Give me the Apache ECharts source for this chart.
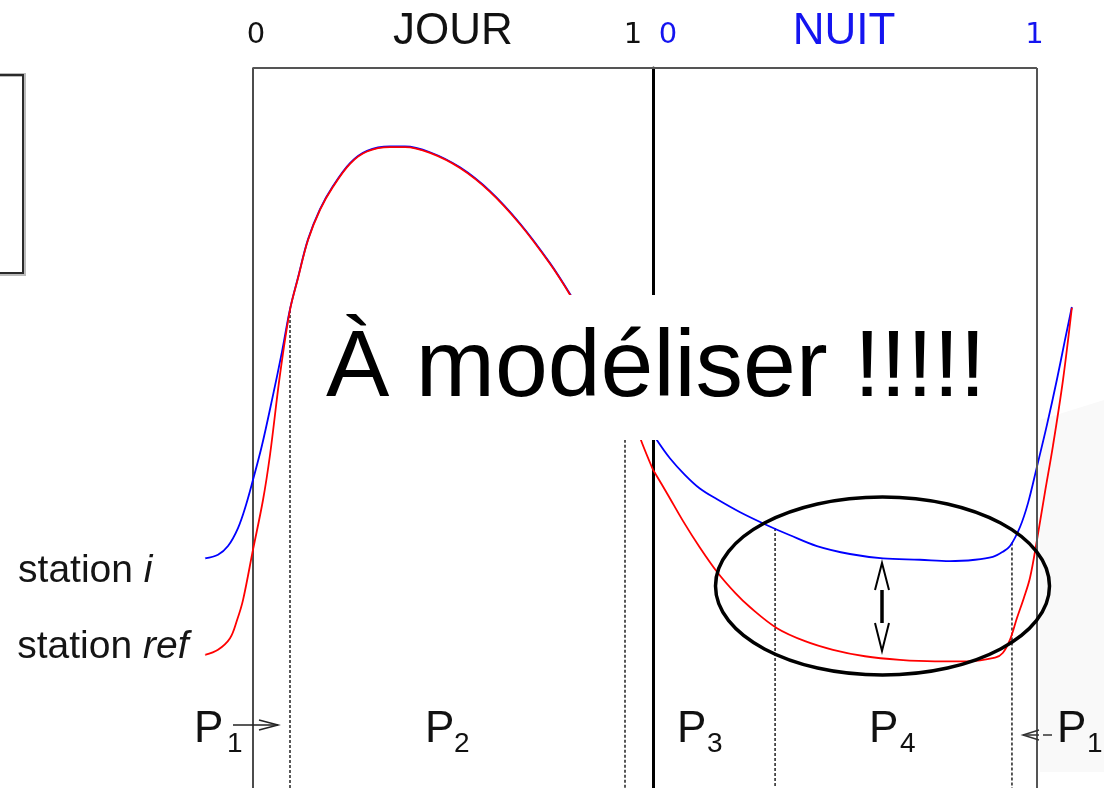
<!DOCTYPE html>
<html><head><meta charset="utf-8">
<script src="https://cdn.jsdelivr.net/npm/echarts@6/dist/echarts.min.js"></script>
<style>html,body{margin:0;padding:0;background:#fff;}#c{width:1104px;height:788px;}</style>
</head><body><div id="c"></div>
<script>
// ---- data (x in fraction of period, y in arbitrary units 0..100) ----
const panelNames = ['JOUR', 'NUIT'];
const tickValues = [0, 1];
const tickLabels = ['0', '1'];
const blueDayU = [-0.12,-0.0875,-0.0625,-0.0375,-0.0175,0,0.0225,0.0475,0.0725,0.0925,0.1125,0.1375,0.1675,0.2,0.2425,0.285,0.3425,0.38,0.4425,0.5175,0.5925,0.6675,0.7425,0.7925,0.8675,0.93,1.0];
const blueDayV = [31.9,32.4,33.6,36.1,39.3,42.8,47.6,53.9,60.6,66.5,70.9,76.2,80.4,83.6,86.8,88.5,89.1,89.1,88.3,86.2,82.9,78.4,72.9,68.6,61.6,56.0,49.3];
const redDayU = [-0.12,-0.0875,-0.0575,-0.04,-0.025,0,0.025,0.0425,0.0675,0.0925,0.1125,0.1375,0.1675,0.2,0.2425,0.285,0.3425,0.38,0.4425,0.5175,0.5925,0.6675,0.7425,0.7925,0.8675,0.93,0.97,1.0];
const redDayV = [18.5,19.2,20.8,23.3,26.1,33.1,40.0,46.25,57.4,66.4,70.8,76.1,80.3,83.5,86.7,88.4,89.0,89.0,88.2,86.1,82.8,78.3,72.8,68.5,61.3,54.6,48.3,44.2];
const blueNightU = [0,0.0104,0.044,0.083,0.122,0.167,0.227,0.297,0.357,0.427,0.513,0.599,0.695,0.773,0.839,0.885,0.911,0.930,0.956,0.977,1.0,1.026,1.052,1.073,1.091];
const blueNightV = [49.3,48.3,45.8,43.5,41.6,40.1,38.3,36.5,35.1,33.6,32.5,31.9,31.7,31.5,31.7,32.1,32.8,33.6,36.25,39.6,44.6,50.4,56.7,62.2,66.8];
const redNightU = [0,0.039,0.078,0.122,0.167,0.214,0.253,0.323,0.396,0.469,0.552,0.643,0.734,0.818,0.891,0.911,0.930,0.948,0.966,0.982,1.0,1.021,1.042,1.068,1.091];
const redNightV = [44.2,40.7,37.1,33.4,30.0,27.1,25.1,22.2,20.4,19.2,18.3,17.8,17.6,17.6,18.1,18.75,20.6,23.6,26.4,29.2,34.4,41.1,47.6,56.7,66.7];
const dayBoundU = [0.0925, 0.93];
const dayBoundTop = [66.4, 56.0];
const nightBoundU = [0.318, 0.935];
const nightBoundTop = [36.1, 34.1];
const seriesNames = ['station i', 'station ref'];
const periodLabels = [['P','1'],['P','2'],['P','3'],['P','4'],['P','1']];

const zip = (u, v) => u.map((x, i) => [x, v[i]]);
const BLUE = '#0000ff', RED = '#ff0000', NBLUE = '#1414f0';
const SANS = 'Liberation Sans';

const curve = (name, data, color, xi, yi, z) => ({
  type: 'line', name: name, xAxisIndex: xi, yAxisIndex: yi, data: data,
  smooth: 0.35, showSymbol: false, symbol: 'none', clip: false, z: z,
  lineStyle: { color: color, width: 1.8 }, itemStyle: { color: color }, animation: false
});
const boundary = (u, top, xi, yi) => ({
  type: 'line', xAxisIndex: xi, yAxisIndex: yi, data: [[u, top], [u, 0]],
  showSymbol: false, symbol: 'none', clip: false, z: 1,
  lineStyle: { color: '#222', width: 1.5, type: [3, 2] }, animation: false
});
const richS = {
  a: { fontFamily: SANS, fontSize: 39, color: '#151515', opacity: 1 },
  b: { fontFamily: SANS, fontSize: 39, fontStyle: 'italic', color: '#151515', opacity: 1 }
};
const startLabel = (pt, fmt, offset, dist) => ({
  type: 'scatter', xAxisIndex: 0, yAxisIndex: 0, data: [pt], symbolSize: 1, z: 5,
  itemStyle: { color: '#ffffff', opacity: 1 }, silent: true, animation: false,
  label: { show: true, position: 'left', distance: dist, offset: offset, formatter: fmt, rich: richS,
    color: '#151515', opacity: 1, textBorderWidth: 0 }
});

const series = [
  curve(seriesNames[0], zip(blueDayU, blueDayV), BLUE, 0, 0, 3),
  curve(seriesNames[1], zip(redDayU, redDayV), RED, 0, 0, 4),
  curve(seriesNames[0], zip(blueNightU, blueNightV), BLUE, 1, 1, 3),
  curve(seriesNames[1], zip(redNightU, redNightV), RED, 1, 1, 4),
  startLabel([blueDayU[0], blueDayV[0]], '{a|station }{b|i}', [0, 13], 52),
  startLabel([redDayU[0], redDayV[0]], '{a|station }{b|ref}', [0, -8], 16),
  { type: 'line', xAxisIndex: 0, yAxisIndex: 0, data: [], z: 6, animation: false,
    markLine: { silent: true, symbol: 'none', animation: false, label: { show: false },
      data: [[{ coord: [0, 100] }, { coord: [1, 100] }]],
      lineStyle: { color: '#555', width: 2, type: 'solid' } } },
  { type: 'line', xAxisIndex: 1, yAxisIndex: 1, data: [], z: 6, animation: false,
    markLine: { silent: true, symbol: 'none', animation: false, label: { show: false },
      data: [[{ coord: [0, 100] }, { coord: [1, 100] }], [{ coord: [1, 100] }, { coord: [1, 0] }]],
      lineStyle: { color: '#555', width: 2, type: 'solid' } } }
];
dayBoundU.forEach((u, i) => series.push(boundary(u, dayBoundTop[i], 0, 0)));
nightBoundU.forEach((u, i) => series.push(boundary(u, nightBoundTop[i], 1, 1)));

const dig = { fontFamily: 'DejaVu Sans', fontSize: 29 };
const xAx = (gi, min, max, name, color, namePad, rich) => ({
  type: 'value', gridIndex: gi, position: 'top', min: min, max: max,
  name: name, nameLocation: 'middle', nameGap: 14, nameMoveOverlap: false,
  nameTextStyle: { fontFamily: SANS, fontSize: 44, color: color, padding: namePad },
  axisLine: { show: false }, axisTick: { show: false }, splitLine: { show: false },
  axisLabel: { show: true, margin: 18, customValues: tickValues, color: color,
    formatter: v => (v === 0 ? '{a|' + tickLabels[0] + '}' : '{b|' + tickLabels[1] + '}'), rich: rich }
});
const yAx = (gi, color, width) => ({
  type: 'value', gridIndex: gi, position: 'left', min: 0, max: 100,
  axisLine: { show: true, onZero: true, lineStyle: { color: color, width: width } },
  axisTick: { show: false }, axisLabel: { show: false }, splitLine: { show: false }
});

const option = {
  animation: false,
  backgroundColor: '#fff',
  grid: [
    { left: 205, top: 68, width: 448, height: 720, containLabel: false, outerBoundsMode: 'none' },
    { left: 653, top: 68, width: 420, height: 720, containLabel: false, outerBoundsMode: 'none' }
  ],
  xAxis: [
    xAx(0, -0.12, 1, panelNames[0], '#111', [0, 0, 0, 48],
      { a: Object.assign({ color: '#111', padding: [0, 0, 0, 6] }, dig), b: Object.assign({ color: '#111', padding: [0, 40, 0, 0] }, dig) }),
    xAx(1, 0, 1.094, panelNames[1], NBLUE, [0, 38, 0, 0],
      { a: Object.assign({ color: NBLUE, padding: [0, 0, 0, 30] }, dig), b: Object.assign({ color: NBLUE, padding: [0, 5, 0, 0] }, dig) })
  ],
  yAxis: [
    yAx(0, '#111', 1.5),
    yAx(1, '#000', 3)
  ],
  series: series,
  graphic: []
};

// annotations
const G = option.graphic;
G.push({ type: 'polygon', z: -10, shape: { points: [[1040, 420], [1104, 400], [1104, 772], [1040, 772]] }, style: { fill: '#f9f9f9' } });
G.push({ type: 'rect', z: 50, shape: { x: -6, y: 75, width: 30, height: 199 }, style: { fill: 'none', stroke: '#bbb', lineWidth: 4 } });
G.push({ type: 'rect', z: 51, shape: { x: -6, y: 75, width: 29, height: 198 }, style: { fill: 'none', stroke: '#2a2a2a', lineWidth: 2 } });
G.push({ type: 'rect', z: 100, shape: { x: 300, y: 295, width: 720, height: 145 }, style: { fill: '#fff' } });
G.push({ type: 'text', z: 101, x: 326, y: 370, style: { text: 'À modéliser !!!!!', fontFamily: SANS, fontSize: 95, fill: '#000', verticalAlign: 'middle', align: 'left' } });
G.push({ type: 'ellipse', z: 60, shape: { cx: 882.5, cy: 586, rx: 167, ry: 89 }, style: { fill: 'none', stroke: '#000', lineWidth: 3.5 } });
G.push({ type: 'polyline', z: 61, shape: { points: [[875, 590], [882, 563], [889, 590]] }, style: { fill: 'none', stroke: '#000', lineWidth: 2 } });
G.push({ type: 'line', z: 61, shape: { x1: 882, y1: 590, x2: 882, y2: 623 }, style: { stroke: '#000', lineWidth: 3.5 } });
G.push({ type: 'polyline', z: 61, shape: { points: [[875, 623], [882, 651], [889, 623]] }, style: { fill: 'none', stroke: '#000', lineWidth: 2 } });
G.push({ type: 'line', z: 61, shape: { x1: 233, y1: 725, x2: 278, y2: 725 }, style: { stroke: '#222', lineWidth: 1.5 } });
G.push({ type: 'polyline', z: 61, shape: { points: [[259, 720], [278, 725], [259, 730]] }, style: { fill: 'none', stroke: '#222', lineWidth: 1.5 } });
G.push({ type: 'line', z: 61, shape: { x1: 1023, y1: 735, x2: 1052, y2: 735 }, style: { stroke: '#333', lineWidth: 1.5, lineDash: [16, 4] } });
G.push({ type: 'polyline', z: 61, shape: { points: [[1039, 730], [1023, 735], [1039, 740]] }, style: { fill: 'none', stroke: '#333', lineWidth: 1.5 } });
const pPos = [[194, 227], [425, 454], [677, 707], [869, 900], [1057, 1087]];
periodLabels.forEach((pl, i) => {
  G.push({ type: 'text', z: 70, x: pPos[i][0], y: 730, style: { text: pl[0], fontFamily: SANS, fontSize: 44, fill: '#111', verticalAlign: 'middle' } });
  G.push({ type: 'text', z: 70, x: pPos[i][1], y: 744, style: { text: pl[1], fontFamily: SANS, fontSize: 28, fill: '#111', verticalAlign: 'middle' } });
});

const chart = echarts.init(document.getElementById('c'), null, { renderer: 'canvas' });
chart.setOption(option);
</script></body></html>
